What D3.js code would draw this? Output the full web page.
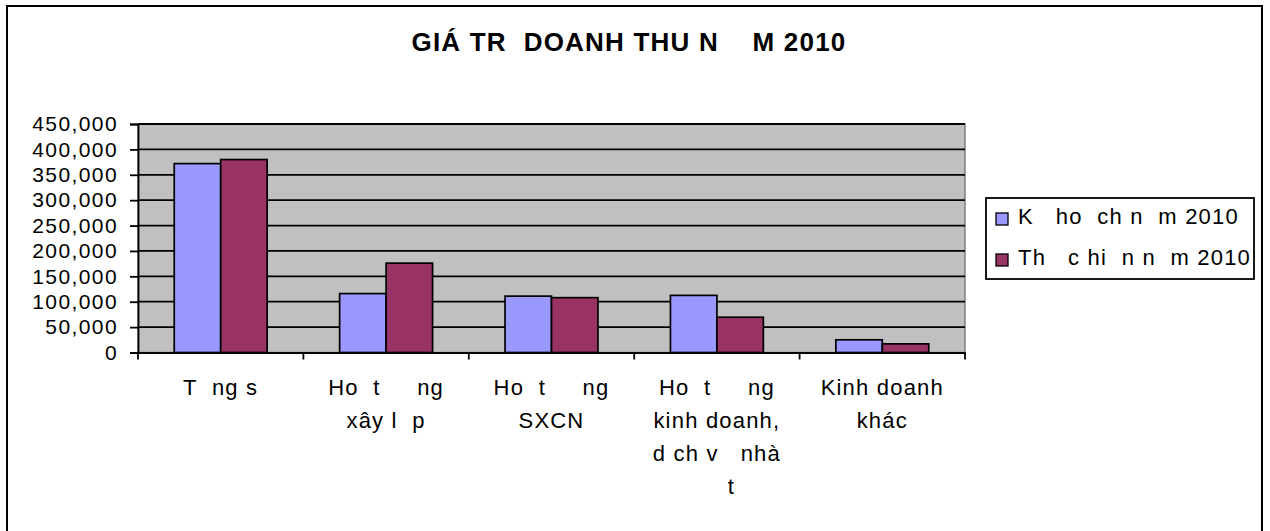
<!DOCTYPE html>
<html>
<head>
<meta charset="utf-8">
<script src="https://cdn.jsdelivr.net/npm/d3@7"></script>
<style>
  body { margin: 0; background: #fff; }
  text { font-family: "Liberation Sans", Arial, sans-serif; white-space: pre; }
</style>
</head>
<body>
<div id="chart"></div>
<script>
// du lieu doc tu hinh
var categories = [
  'T  ng s',
  'Ho  t     ng\nxây l  p',
  'Ho  t     ng\nSXCN',
  'Ho  t     ng\nkinh doanh,\nd ch v   nhà\n    t',
  'Kinh doanh\nkhác'
];
var seriesNames = ['K   ho  ch n  m 2010', 'Th   c hi  n n  m 2010'];
var keHoach = [372000, 116000, 111000, 112500, 25000];
var thucHien = [380000, 176000, 108000, 69500, 17000];
var yTicks = [0, 50000, 100000, 150000, 200000, 250000, 300000, 350000, 400000, 450000];
var colors = ['#9999FF', '#993366'];
var title = 'GIÁ TR  DOANH THU N    M 2010';

var width = 1270, height = 531;
var plotLeft = 138, plotRight = 965, plotTop = 124, plotBottom = 352.5;

var svg = d3.select('#chart').append('svg')
  .attr('width', width)
  .attr('height', height);

// khung ngoai
svg.append('rect')
  .attr('x', 7).attr('y', 6)
  .attr('width', 1255).attr('height', 540)
  .attr('fill', '#fff')
  .attr('stroke', '#000')
  .attr('stroke-width', 2);

svg.append('text')
  .attr('x', 629).attr('y', 51)
  .attr('text-anchor', 'middle')
  .attr('font-size', 26)
  .attr('font-weight', 'bold')
  .attr('letter-spacing', 1.2)
  .text(title);

var x = d3.scaleBand()
  .domain(categories)
  .range([plotLeft, plotRight])
  .paddingInner(0)
  .paddingOuter(0);

var xs = d3.scaleBand()
  .domain([0, 1])
  .range([0, x.bandwidth()])
  .paddingInner(0)
  .paddingOuter(0.78);

var y = d3.scaleLinear()
  .domain([0, 450000])
  .range([plotBottom, plotTop]);

// vung ve
svg.append('rect')
  .attr('x', plotLeft).attr('y', plotTop)
  .attr('width', plotRight - plotLeft).attr('height', plotBottom - plotTop)
  .attr('fill', '#C0C0C0')
  .attr('stroke', '#808080')
  .attr('stroke-width', 1.5);

// luoi
svg.append('g')
  .selectAll('line')
  .data(yTicks.slice(1))
  .enter()
  .append('line')
  .attr('x1', plotLeft).attr('x2', plotRight)
  .attr('y1', function (d) { return y(d); })
  .attr('y2', function (d) { return y(d); })
  .attr('stroke', '#000')
  .attr('stroke-width', 1.8);

var series = [keHoach, thucHien];
series.forEach(function (vals, s) {
  svg.append('g')
    .selectAll('rect')
    .data(vals)
    .enter()
    .append('rect')
    .attr('x', function (d, i) { return x(categories[i]) + xs(s); })
    .attr('y', function (d) { return y(d); })
    .attr('width', xs.bandwidth())
    .attr('height', function (d) { return plotBottom - y(d); })
    .attr('fill', colors[s])
    .attr('stroke', '#000')
    .attr('stroke-width', 1.7);
});

// truc y
var yAxis = svg.append('g')
  .attr('transform', 'translate(' + plotLeft + ',0)')
  .call(d3.axisLeft(y).tickValues(yTicks).tickFormat(d3.format(',')).tickSize(8).tickPadding(12));
yAxis.select('.domain').attr('stroke-width', 1.8);
yAxis.selectAll('.tick line').attr('stroke-width', 1.8);
yAxis.selectAll('.tick text')
  .attr('font-size', 21)
  .attr('letter-spacing', 1.4)
  .attr('font-family', '"Liberation Sans", Arial, sans-serif')
  .attr('fill', '#000');

// truc x
var xAxis = svg.append('g')
  .attr('transform', 'translate(0,' + plotBottom + ')')
  .call(d3.axisBottom(x).tickSize(0).tickFormat(''));
xAxis.select('.domain').attr('stroke-width', 1.8);

var bounds = x.domain().map(function (c) { return x(c); }).concat([plotRight]);
xAxis.selectAll('.sep')
  .data(bounds)
  .enter()
  .append('line')
  .attr('class', 'sep')
  .attr('x1', function (d) { return d; })
  .attr('x2', function (d) { return d; })
  .attr('y1', 0).attr('y2', 7)
  .attr('stroke', '#000')
  .attr('stroke-width', 1.8);

var labels = svg.append('g')
  .selectAll('text')
  .data(categories)
  .enter()
  .append('text')
  .attr('text-anchor', 'middle')
  .attr('font-size', 22)
  .attr('letter-spacing', 1.2)
  .attr('fill', '#000');

labels.each(function (c) {
  var t = d3.select(this);
  c.split('\n').forEach(function (line, k) {
    t.append('tspan')
      .attr('x', x(c) + x.bandwidth() / 2)
      .attr('y', 395 + k * 33)
      .text(line);
  });
});

// chu giai
var legend = svg.append('g');
legend.append('rect')
  .attr('x', 986).attr('y', 198)
  .attr('width', 268).attr('height', 81)
  .attr('fill', '#fff')
  .attr('stroke', '#000')
  .attr('stroke-width', 1.8);

var items = legend.selectAll('.item')
  .data(seriesNames)
  .enter()
  .append('g')
  .attr('class', 'item')
  .attr('transform', function (d, i) { return 'translate(996,' + (224 + i * 41) + ')'; });

items.append('rect')
  .attr('x', 0).attr('y', -11)
  .attr('width', 12).attr('height', 12)
  .attr('fill', function (d, i) { return colors[i]; })
  .attr('stroke', '#000')
  .attr('stroke-width', 1.3);

items.append('text')
  .attr('x', 22).attr('y', 0)
  .attr('font-size', 22)
  .attr('letter-spacing', 1.2)
  .attr('fill', '#000')
  .text(function (d) { return d; });
</script>
</body>
</html>
